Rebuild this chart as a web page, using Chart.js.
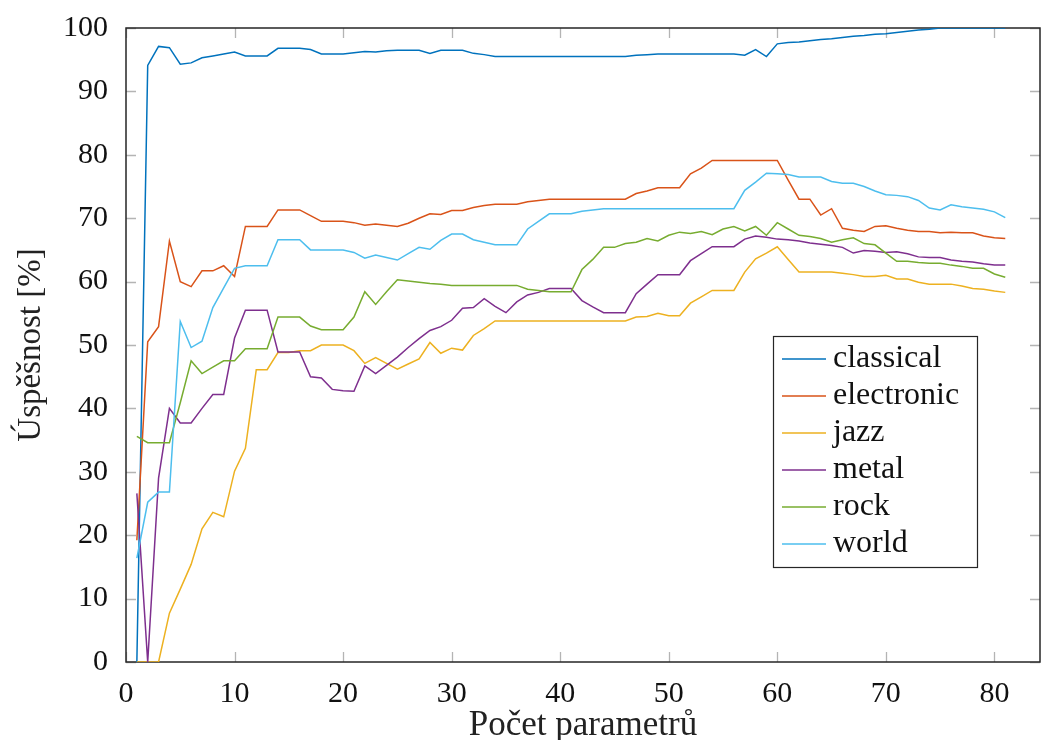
<!DOCTYPE html>
<html>
<head>
<meta charset="utf-8">
<script src="https://cdn.jsdelivr.net/npm/chart.js@4.4.1/dist/chart.umd.min.js"></script>
<style>
  html, body { margin: 0; padding: 0; background: #fff; }
  #wrap { width: 1041px; height: 740px; }
</style>
</head>
<body>
<div id="wrap"><canvas id="chart" width="1041" height="740"></canvas></div>
<script>
// Number of parameters (x axis)
const paramCounts = [
  1, 2, 3, 4, 5, 6, 7, 8, 9, 10, 11, 12, 13, 14, 15, 16, 17, 18, 19, 20,
  21, 22, 23, 24, 25, 26, 27, 28, 29, 30, 31, 32, 33, 34, 35, 36, 37, 38, 39, 40,
  41, 42, 43, 44, 45, 46, 47, 48, 49, 50, 51, 52, 53, 54, 55, 56, 57, 58, 59, 60,
  61, 62, 63, 64, 65, 66, 67, 68, 69, 70, 71, 72, 73, 74, 75, 76, 77, 78, 79, 80, 81
];

// Success rate per genre [%]
const classical = [
  0, 94.1, 97.1, 96.9, 94.3, 94.5, 95.3, 95.6, 95.9, 96.2,
  95.6, 95.6, 95.6, 96.8, 96.8, 96.8, 96.6, 95.9, 95.9, 95.9,
  96.1, 96.3, 96.2, 96.4, 96.5, 96.5, 96.5, 96.0, 96.5, 96.5,
  96.5, 96.0, 95.8, 95.5, 95.5, 95.5, 95.5, 95.5, 95.5, 95.5,
  95.5, 95.5, 95.5, 95.5, 95.5, 95.5, 95.7, 95.8, 95.9, 95.9,
  95.9, 95.9, 95.9, 95.9, 95.9, 95.9, 95.7, 96.6, 95.5, 97.5,
  97.7, 97.8, 98.0, 98.2, 98.3, 98.5, 98.7, 98.8, 99.0, 99.1,
  99.3, 99.5, 99.7, 99.8, 100, 100, 100, 100, 100, 100, 100
];
const electronic = [
  19.2, 50.5, 52.9, 66.4, 60.0, 59.2, 61.7, 61.7, 62.5, 60.8,
  68.7, 68.7, 68.7, 71.3, 71.3, 71.3, 70.4, 69.5, 69.5, 69.5,
  69.3, 68.9, 69.1, 68.9, 68.7, 69.2, 70.0, 70.7, 70.6, 71.2,
  71.2, 71.7, 72.0, 72.2, 72.2, 72.2, 72.6, 72.8, 73.0, 73.0,
  73.0, 73.0, 73.0, 73.0, 73.0, 73.0, 73.9, 74.3, 74.8, 74.8,
  74.8, 77.0, 77.9, 79.1, 79.1, 79.1, 79.1, 79.1, 79.1, 79.1,
  76.0, 73.0, 73.0, 70.5, 71.5, 68.4, 68.1, 67.9, 68.7, 68.8,
  68.4, 68.1, 67.9, 67.9, 67.7, 67.8, 67.7, 67.7, 67.2, 66.9, 66.8
];
const jazz = [
  0, 0, 0, 7.7, 11.5, 15.4, 21.0, 23.6, 22.9, 30.1,
  33.7, 46.1, 46.1, 48.8, 48.8, 49.1, 49.1, 50.0, 50.0, 50.0,
  49.1, 47.1, 48.0, 47.1, 46.2, 47.0, 47.8, 50.4, 48.7, 49.5,
  49.2, 51.5, 52.6, 53.8, 53.8, 53.8, 53.8, 53.8, 53.8, 53.8,
  53.8, 53.8, 53.8, 53.8, 53.8, 53.8, 54.4, 54.5, 55.0, 54.6,
  54.6, 56.6, 57.6, 58.6, 58.6, 58.6, 61.5, 63.6, 64.5, 65.5,
  63.5, 61.5, 61.5, 61.5, 61.5, 61.3, 61.1, 60.8, 60.8, 61.0,
  60.4, 60.4, 59.9, 59.6, 59.6, 59.6, 59.3, 58.9, 58.8, 58.5, 58.3
];
const metal = [
  26.6, 0, 29.0, 40.0, 37.7, 37.7, 40.0, 42.2, 42.2, 51.1,
  55.5, 55.5, 55.5, 48.9, 48.9, 48.9, 45.0, 44.8, 43.0, 42.8,
  42.7, 46.7, 45.5, 46.8, 48.1, 49.6, 51.0, 52.3, 52.9, 53.9,
  55.8, 55.9, 57.3, 56.1, 55.1, 56.8, 57.9, 58.3, 58.9, 58.9,
  58.9, 57.0, 56.0, 55.1, 55.1, 55.1, 58.1, 59.6, 61.1, 61.1,
  61.1, 63.3, 64.4, 65.5, 65.5, 65.5, 66.7, 67.2, 67.0, 66.7,
  66.6, 66.4, 66.1, 65.9, 65.7, 65.4, 64.5, 64.9, 64.8, 64.6,
  64.7, 64.4, 63.9, 63.8, 63.8, 63.4, 63.2, 63.1, 62.8, 62.6, 62.6
];
const rock = [
  35.6, 34.6, 34.6, 34.6, 40.9, 47.5, 45.5, 46.5, 47.5, 47.5,
  49.4, 49.4, 49.4, 54.4, 54.4, 54.4, 53.0, 52.4, 52.4, 52.4,
  54.4, 58.4, 56.4, 58.4, 60.3, 60.1, 59.9, 59.7, 59.6, 59.4,
  59.4, 59.4, 59.4, 59.4, 59.4, 59.4, 58.8, 58.6, 58.4, 58.4,
  58.4, 61.9, 63.5, 65.4, 65.4, 66.0, 66.2, 66.8, 66.4, 67.3,
  67.8, 67.6, 67.9, 67.4, 68.3, 68.7, 68.0, 68.7, 67.3, 69.3,
  68.3, 67.3, 67.1, 66.8, 66.2, 66.6, 66.9, 66.0, 65.8, 64.5,
  63.2, 63.2, 63.0, 62.9, 62.9, 62.6, 62.4, 62.1, 62.1, 61.2, 60.7
];
const world = [
  16.4, 25.2, 26.8, 26.8, 53.7, 49.6, 50.6, 55.9, 59.0, 62.1,
  62.5, 62.5, 62.5, 66.6, 66.6, 66.6, 65.0, 65.0, 65.0, 65.0,
  64.6, 63.7, 64.2, 63.8, 63.4, 64.4, 65.4, 65.1, 66.5, 67.5,
  67.5, 66.6, 66.2, 65.8, 65.8, 65.8, 68.3, 69.5, 70.7, 70.7,
  70.7, 71.1, 71.3, 71.5, 71.5, 71.5, 71.5, 71.5, 71.5, 71.5,
  71.5, 71.5, 71.5, 71.5, 71.5, 71.5, 74.4, 75.7, 77.1, 77.0,
  76.9, 76.5, 76.5, 76.5, 75.8, 75.5, 75.5, 75.0, 74.3, 73.7,
  73.6, 73.4, 72.8, 71.6, 71.3, 72.1, 71.8, 71.6, 71.4, 71.0, 70.1
];

const genres = ['classical', 'electronic', 'jazz', 'metal', 'rock', 'world'];
const seriesValues = [classical, electronic, jazz, metal, rock, world];
const genreColors = ['#0072BD', '#D95319', '#EDB120', '#7E2F8E', '#77AC30', '#4DBEEE'];

const xTicks = [0, 10, 20, 30, 40, 50, 60, 70, 80];
const yTicks = [0, 10, 20, 30, 40, 50, 60, 70, 80, 90, 100];
const xTitle = 'Počet parametrů';
const yTitle = 'Úspěšnost [%]';

const serif = "'Liberation Serif', 'DejaVu Serif', serif";

// Build datasets, later genres drawn on top like in pgfplots
const datasets = genres.map((name, i) => ({
    label: name,
    data: seriesValues[i].map((v, j) => ({ x: paramCounts[j], y: v })),
    borderColor: genreColors[i],
    backgroundColor: genreColors[i],
    borderWidth: 1.5,
    pointRadius: 0,
    tension: 0,
    order: genres.length - i
}));

// Frame, inner ticks, legend box and axis titles
const decorPlugin = {
    id: 'decor',
    beforeDatasetsDraw(chart) {
        const { ctx, chartArea: a, scales: { x, y } } = chart;
        ctx.save();
        ctx.strokeStyle = '#b4b4b4';
        ctx.lineWidth = 1.3;
        ctx.beginPath();
        xTicks.forEach(v => {
            const px = Math.round(x.getPixelForValue(v)) + 0.5;
            ctx.moveTo(px, a.bottom); ctx.lineTo(px, a.bottom - 10);
            ctx.moveTo(px, a.top); ctx.lineTo(px, a.top + 10);
        });
        yTicks.forEach(v => {
            const py = Math.round(y.getPixelForValue(v)) + 0.5;
            ctx.moveTo(a.left, py); ctx.lineTo(a.left + 10, py);
            ctx.moveTo(a.right, py); ctx.lineTo(a.right - 10, py);
        });
        ctx.stroke();

        ctx.strokeStyle = '#262626';
        ctx.lineWidth = 1.5;
        ctx.strokeRect(a.left, a.top, a.right - a.left, a.bottom - a.top);
        ctx.restore();
    },
    afterDatasetsDraw(chart) {
        const { ctx, chartArea: a } = chart;
        ctx.save();

        // legend
        const box = { left: 773, top: 336, width: 204, height: 231 };
        ctx.fillStyle = '#fff';
        ctx.fillRect(box.left, box.top, box.width, box.height);
        ctx.strokeStyle = '#262626';
        ctx.lineWidth = 1.2;
        ctx.strokeRect(box.left + 0.5, box.top + 0.5, box.width, box.height);
        ctx.font = '32px ' + serif;
        ctx.textBaseline = 'middle';
        ctx.textAlign = 'left';
        genres.forEach((name, i) => {
            const rowY = box.top + 23 + i * 37;
            ctx.strokeStyle = genreColors[i];
            ctx.lineWidth = 1.5;
            ctx.beginPath();
            ctx.moveTo(box.left + 9, rowY);
            ctx.lineTo(box.left + 53, rowY);
            ctx.stroke();
            ctx.fillStyle = '#111';
            ctx.fillText(name, box.left + 60, rowY);
        });

        // axis titles
        ctx.fillStyle = '#222';
        ctx.font = '35px ' + serif;
        ctx.textAlign = 'center';
        ctx.textBaseline = 'alphabetic';
        ctx.fillText(xTitle, (a.left + a.right) / 2, 735);

        ctx.font = '33px ' + serif;
        ctx.translate(40, (a.top + a.bottom) / 2);
        ctx.rotate(-Math.PI / 2);
        ctx.fillText(yTitle, 0, 0);
        ctx.restore();
    }
};

new Chart(document.getElementById('chart'), {
    type: 'line',
    data: { datasets: datasets },
    options: {
        responsive: false,
        animation: false,
        layout: { padding: { top: 26, right: 1, left: 0, bottom: 0 }, autoPadding: false },
        plugins: {
            legend: { display: false },
            tooltip: { enabled: false }
        },
        scales: {
            x: {
                type: 'linear',
                min: 0,
                max: 84.2,
                afterBuildTicks: scale => { scale.ticks = xTicks.map(v => ({ value: v })); },
                afterFit: scale => { scale.height = 78; },
                grid: { display: false },
                border: { display: false },
                ticks: {
                    color: '#111',
                    padding: 6,
                    maxRotation: 0,
                    autoSkip: false,
                    font: { family: serif, size: 30 }
                }
            },
            y: {
                type: 'linear',
                min: 0,
                max: 100,
                afterBuildTicks: scale => { scale.ticks = yTicks.map(v => ({ value: v })); },
                afterFit: scale => { scale.width = 126; },
                grid: { display: false },
                border: { display: false },
                ticks: {
                    color: '#111',
                    padding: 10,
                    autoSkip: false,
                    font: { family: serif, size: 30 }
                }
            }
        }
    },
    plugins: [decorPlugin]
});
</script>
</body>
</html>
